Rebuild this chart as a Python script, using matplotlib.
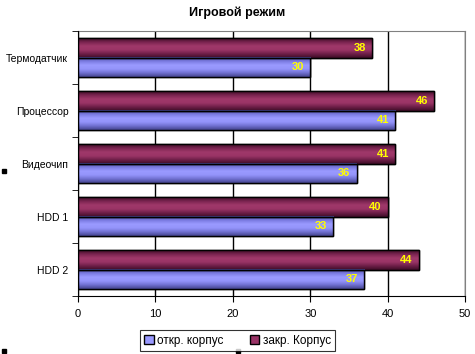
import matplotlib.pyplot as plt
import numpy as np
from matplotlib.colors import LinearSegmentedColormap
from matplotlib.patches import Rectangle

plt.rcParams['font.family'] = ['Liberation Sans', 'DejaVu Sans']

categories = ["Термодатчик", "Процессор", "Видеочип", "HDD 1", "HDD 2"]
open_case = [30, 41, 36, 33, 37]
closed_case = [38, 46, 41, 40, 44]
series_names = ["откр. корпус", "закр. Корпус"]

red_cmap = LinearSegmentedColormap.from_list(
    "red", ["#3d0c26", "#7a2450", "#a0386a", "#9a3466", "#6e1f48", "#3d0c26"])
blue_cmap = LinearSegmentedColormap.from_list(
    "blue", ["#4a4a98", "#7a7ae0", "#9a9aff", "#9494fa", "#7070d0", "#44448c"])

fig = plt.figure(figsize=(4.75, 3.54), dpi=100)
ax = fig.add_axes([0.1642, 0.1638, 0.8150, 0.7486])

index = np.arange(len(categories))
bar_h = 0.37

bars_closed = ax.barh(index - bar_h / 2, closed_case, bar_h, color='#993366',
                      edgecolor='k', linewidth=1.0, label=series_names[1], zorder=3)
bars_open = ax.barh(index + bar_h / 2, open_case, bar_h, color='#9999ff',
                    edgecolor='k', linewidth=1.0, label=series_names[0], zorder=3)

grad = np.linspace(0, 1, 64).reshape(-1, 1)
for bars, cmap in [(bars_closed, red_cmap), (bars_open, blue_cmap)]:
    for p in bars:
        x0, y0 = p.get_x(), p.get_y()
        w, h = p.get_width(), p.get_height()
        ax.imshow(grad, extent=[x0, x0 + w, y0 + h, y0], cmap=cmap,
                  aspect='auto', zorder=3.5, interpolation='bilinear')
        ax.add_patch(Rectangle((x0, y0), w, h, fill=False, edgecolor='k',
                               linewidth=1.0, zorder=4))
        ax.text(x0 + w - 0.8, y0 + h / 2, "%d" % w, color='#ffff00',
                fontsize=8, fontweight='bold', ha='right', va='center', zorder=5)

ax.set_xlim(0, 50)
ax.set_ylim(len(categories) - 0.5, -0.5)
ax.set_xticks(np.arange(0, 51, 10))
ax.tick_params(axis='x', direction='out', length=4, labelsize=8, pad=5)
ax.set_yticks(index)
ax.set_yticklabels(categories, fontsize=7.5)
ax.tick_params(axis='y', which='major', length=0, pad=7)
ax.set_yticks(np.arange(-0.5, len(categories)), minor=True)
ax.tick_params(axis='y', which='minor', direction='out', length=4)

ax.grid(axis='x', color='k', linewidth=1.0, zorder=0)
ax.set_axisbelow(True)
for side in ['top', 'right']:
    ax.spines[side].set_color('#808080')
ax.spines['left'].set_color('k')
ax.spines['bottom'].set_color('k')
ax.spines['left'].set_zorder(6)

fig.text(0.5, 0.963, "Игровой режим", ha='center', va='center',
         fontsize=9, fontweight='bold')

handles, labels = ax.get_legend_handles_labels()
leg = fig.legend(handles[::-1], labels[::-1], loc='center', bbox_to_anchor=(0.5, 0.038),
                 ncol=2, fontsize=8.5, frameon=True, fancybox=False,
                 handlelength=0.8, handleheight=0.8, handletextpad=0.3,
                 columnspacing=2.2, borderpad=0.35, borderaxespad=0)
leg.get_frame().set_edgecolor('k')
leg.get_frame().set_linewidth(0.8)

# small selection markers from the original screenshot
for x, y in [(0.004, 0.511), (0.004, 0.003), (0.497, 0.003)]:
    fig.patches.append(Rectangle((x, y), 0.008, 0.012, transform=fig.transFigure,
                                 color='k', figure=fig))

fig.savefig("out.png", dpi=100)
